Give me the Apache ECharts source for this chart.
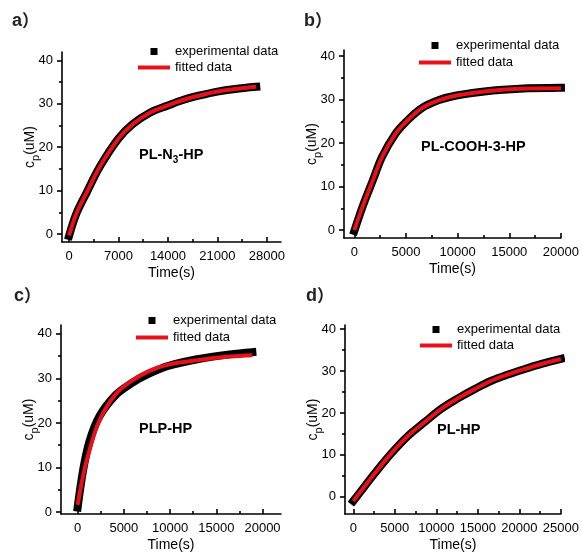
<!DOCTYPE html>
<html>
<head>
<meta charset="utf-8">
<script src="https://cdn.jsdelivr.net/npm/echarts@6/dist/echarts.min.js"></script>
<style>
  html, body { margin: 0; padding: 0; background: #fff; }
  #main { width: 582px; height: 553px; }
</style>
</head>
<body>
<div id="main"></div>
<script>
// panel a) PL-N3-HP
var timeA = [0, 1000, 2500, 4350, 7000, 9000, 11500, 14000, 16000, 18500, 21000, 23500, 26500];
var expA  = [-0.4, 4.6, 9.6, 15.5, 22.0, 25.3, 28.0, 29.6, 30.8, 31.9, 32.8, 33.4, 33.9];
var fitA  = [-0.3, 4.6, 9.6, 15.5, 22.0, 25.3, 28.0, 29.6, 30.8, 31.9, 32.8, 33.4, 33.9];
// panel b) PL-COOH-3-HP
var timeB = [0, 800, 1800, 2700, 4000, 5000, 6500, 8200, 10000, 13000, 16000, 20000];
var expB  = [-0.2, 5.4, 11.5, 16.9, 22.2, 24.9, 28.0, 29.9, 31.0, 32.0, 32.5, 32.7];
var fitB  = [0, 5.4, 11.5, 16.9, 22.2, 24.9, 28.0, 29.9, 31.0, 32.0, 32.5, 32.6];
// panel c) PLP-HP
var timeC = [0, 600, 1300, 2360, 4130, 5890, 7650, 9770, 12940, 16470, 18900];
var expC  = [1.0, 9.5, 16.0, 21.5, 26.3, 29.0, 31.0, 32.8, 34.3, 35.4, 35.9];
var fitC  = [1.6, 8.2, 14.0, 20.6, 26.5, 29.5, 31.6, 33.1, 34.1, 34.9, 35.2];
// panel d) PL-HP
var timeD = [0, 1330, 2540, 4550, 6560, 8575, 10590, 12600, 14610, 16630, 18640, 20650, 22660, 25000];
var expD  = [-1.0, 2.4, 5.5, 10.3, 14.5, 17.8, 21.0, 23.5, 25.7, 27.7, 29.2, 30.5, 31.7, 32.9];
var fitD  = [-1.0, 2.4, 5.5, 10.3, 14.5, 17.8, 21.0, 23.5, 25.7, 27.7, 29.2, 30.5, 31.7, 32.9];

var xTicksA = [0, 7000, 14000, 21000, 28000];
var xTicks20 = [0, 5000, 10000, 15000, 20000];
var xTicksD = [0, 5000, 10000, 15000, 20000, 25000];
var yTicks = [0, 10, 20, 30, 40];

var panelNames = ['a', 'b', 'c', 'd'];
var seriesNames = ['experimental data', 'fitted data'];

var RED = '#e8101a';
var FONT = 'Liberation Sans, Arial, sans-serif';

function pairs(t, v) {
    return t.map(function (x, i) { return [x, v[i]]; });
}
function minors(ticks, max) {
    var step = ticks[1] - ticks[0];
    var out = [];
    for (var v = ticks[0] + step / 2; v < max; v += step) out.push(v);
    return out;
}

// layout of each panel: grid box, axis ranges, legend / title positions
var panels = [
    { grid: {left: 62, top: 52, width: 219, height: 190}, x: [-1000, 30000], y: [-1.8, 41.9],
      xt: xTicksA, time: timeA, exp: expA, fit: fitA, legend: [133, 40], gap: 3, tag: [12, 12],
      title: '{b|PL-N}{s|3}{b|-HP}', titlePos: [139, 145] },
    { grid: {left: 344, top: 50, width: 219, height: 188}, x: [-1000, 20000], y: [-1.8, 41.4],
      xt: xTicks20, time: timeB, exp: expB, fit: fitB, legend: [414, 34], gap: 4, tag: [304, 12],
      title: '{b|PL-COOH-3-HP}', titlePos: [421, 139] },
    { grid: {left: 61, top: 325, width: 220, height: 194}, x: [-1800, 22000], y: [-0.45, 42],
      xt: xTicks20, time: timeC, exp: expC, fit: fitC, legend: [131, 309], gap: 4, tag: [14, 287],
      title: '{b|PLP-HP}', titlePos: [139, 421] },
    { grid: {left: 345, top: 325, width: 216, height: 190}, x: [-1000, 25000], y: [-4.1, 41],
      xt: xTicksD, time: timeD, exp: expD, fit: fitD, legend: [415, 318], gap: 3, tag: [306, 287],
      title: '{b|PL-HP}', titlePos: [437, 422] }
];

var grids = [], xAxes = [], yAxes = [], series = [], legends = [], titles = [];

var lineStyle = { color: '#000', width: 1.6 };
var labelStyle = { color: '#000', fontSize: 13, fontFamily: FONT };

// an axis that only draws ticks (no line, no labels)
function tickAxis(i, pos, range, values, inside, len) {
    return {
        type: 'value', gridIndex: i, position: pos, min: range[0], max: range[1],
        axisLine: { show: false, onZero: false },
        axisTick: { show: true, inside: inside, length: len, lineStyle: lineStyle, customValues: values },
        axisLabel: { show: false },
        splitLine: { show: false }
    };
}

panels.forEach(function (p, i) {
    grids.push(p.grid);
    // x axis: line, labels, name
    xAxes.push({
        type: 'value', gridIndex: i, position: 'bottom', min: p.x[0], max: p.x[1],
        name: 'Time(s)', nameLocation: 'middle', nameGap: 24, nameMoveOverlap: false,
        nameTextStyle: { color: '#000', fontSize: 14, fontFamily: FONT },
        axisLine: { show: true, onZero: false, lineStyle: lineStyle },
        axisTick: { show: false },
        axisLabel: Object.assign({ margin: 8, customValues: p.xt,
            formatter: function (v) { return String(v); } }, labelStyle),
        splitLine: { show: false }
    });
    xAxes.push(tickAxis(i, 'bottom', p.x, p.xt, true, 5));
    xAxes.push(tickAxis(i, 'bottom', p.x, minors(p.xt, p.x[1]), true, 3));
    // y axis
    yAxes.push({
        type: 'value', gridIndex: i, position: 'left', min: p.y[0], max: p.y[1],
        name: 'c{s|p}(uM)', nameLocation: 'middle', nameGap: 21, nameRotate: 90,
        nameMoveOverlap: false,
        nameTextStyle: {
            color: '#000', fontSize: 14, fontFamily: FONT,
            rich: { s: { fontSize: 11, fontFamily: FONT, color: '#000', verticalAlign: 'bottom', lineHeight: 22 } }
        },
        axisLine: { show: true, onZero: false, lineStyle: lineStyle },
        axisTick: { show: false },
        axisLabel: Object.assign({ margin: 9, customValues: yTicks }, labelStyle),
        splitLine: { show: false }
    });
    yAxes.push(tickAxis(i, 'left', p.y, yTicks, false, 5));
    yAxes.push(tickAxis(i, 'left', p.y, minors(yTicks, p.y[1]), false, 3));

    series.push({
        type: 'line', name: seriesNames[0], xAxisIndex: 3 * i, yAxisIndex: 3 * i,
        data: pairs(p.time, p.exp), smooth: 0.35, symbol: 'rect', showSymbol: false,
        lineStyle: { color: '#000', width: 8, cap: 'square' }, itemStyle: { color: '#000' },
        z: 2, silent: true
    });
    series.push({
        type: 'line', name: seriesNames[1], xAxisIndex: 3 * i, yAxisIndex: 3 * i,
        data: pairs(p.time, p.fit), smooth: 0.35, symbol: 'none',
        lineStyle: { color: RED, width: 4 }, itemStyle: { color: RED },
        z: 3, silent: true
    });

    legends.push({
        left: p.legend[0], top: p.legend[1], orient: 'vertical',
        itemWidth: 32, itemHeight: 7, itemGap: p.gap, selectedMode: false,
        symbolKeepAspect: true,
        textStyle: { color: '#000', fontSize: 13, fontFamily: FONT },
        data: [
            { name: seriesNames[0], icon: 'path://M0 0H10V10H0Z', itemStyle: { color: '#000' } },
            { name: seriesNames[1], icon: 'path://M0 0H32V4H0Z', itemStyle: { color: RED } }
        ]
    });

    titles.push({
        text: '{l|' + panelNames[i] + '}{p|）}', left: p.tag[0], top: p.tag[1], padding: 0,
        textStyle: { rich: {
            l: { fontSize: 18, fontWeight: 'bold', fontFamily: FONT, color: '#222' },
            p: { fontSize: 17, fontFamily: 'Noto Sans CJK SC', color: '#222' }
        } }
    });
    titles.push({
        text: p.title, left: p.titlePos[0], top: p.titlePos[1], padding: 0,
        textStyle: { rich: {
            b: { fontSize: 14.5, fontWeight: 'bold', fontFamily: FONT, color: '#000' },
            s: { fontSize: 10, fontWeight: 'bold', fontFamily: FONT, color: '#000', verticalAlign: 'bottom', lineHeight: 20 }
        } }
    });
});

var chart = echarts.init(document.getElementById('main'));
chart.setOption({
    backgroundColor: '#fff',
    animation: false,
    title: titles,
    legend: legends,
    grid: grids,
    xAxis: xAxes,
    yAxis: yAxes,
    series: series
});
</script>
</body>
</html>
